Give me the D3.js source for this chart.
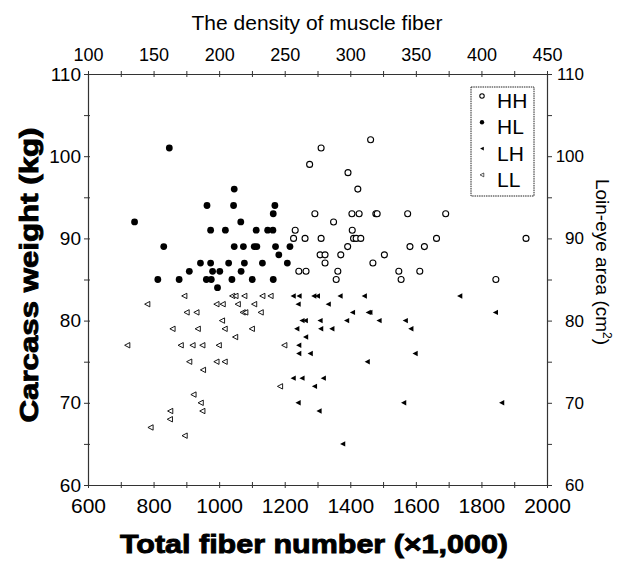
<!DOCTYPE html>
<html>
<head>
<meta charset="utf-8">
<script src="https://cdn.jsdelivr.net/npm/d3@7"></script>
<style>
  body { margin: 0; background: #fff; }
  svg { display: block; font-family: "Liberation Sans", Arial, sans-serif; }
  .tick text { fill: #000; }
</style>
</head>
<body>
<svg id="chart" width="625" height="562"></svg>
<script>
// values: [total fiber number (x1000), carcass weight (kg)]
const HH = [[1311,101],[1462,102],[1276,99],[1393,98],[1423,96],[1292,93],[1405,93],[1427,93],[1478,93],[1482,93],
  [1575,93],[1691,93],[1349,92],[1232,91],[1406,91],[1227,90],[1262,90],[1311,90],[1410,90],[1418,90],[1432,90],
  [1663,90],[1936,90],[1392,89],[1582,89],[1626,89],[1308,88],[1323,88],[1371,88],[1504,88],[1323,87],[1469,87],
  [1243,86],[1265,86],[1362,86],[1548,86],[1612,86],[1357,85],[1555,85],[1844,85]];
const HL = [[848,101],[1046,96],[963,94],[1044,94],[1170,94],[1165,93],[742,92],[1066,92],[974,91],[1019,91],
  [1113,91],[1148,91],[1164,91],[831,89],[1046,89],[1074,89],[1107,89],[1115,89],[1172,89],[1216,89],[1182,88],
  [943,87],[974,87],[1029,87],[1077,87],[1132,87],[1208,87],[909,86],[980,86],[1002,86],[1067,86],[813,85],
  [878,85],[961,85],[976,85],[1039,85],[1101,85],[1165,85],[995,84]];
const LH = [[1226,83],[1244,83],[1289,83],[1300,83],[1369,83],[1443,83],[1734,83],[1241,82],[1333,82],[1407,81],
  [1455,81],[1460,81],[1843,81],[1253,80],[1263,80],[1308,80],[1389,80],[1488,80],[1568,80],[1237,79],[1310,79],
  [1344,79],[1585,79],[1264,78],[1243,77],[1243,76],[1278,76],[1598,76],[1452,75],[1226,73],[1253,73],[1318,73],
  [1291,72],[1241,70],[1563,70],[1862,70],[1305,69],[1377,65]];
const LL = [[894,83],[1040,83],[1050,83],[1077,83],[1132,83],[1157,83],[781,82],[992,82],[1011,82],[1057,82],
  [1107,82],[901,81],[931,81],[1072,81],[1080,81],[1127,81],[1009,80],[858,79],[935,79],[1017,79],[1100,79],
  [1049,78],[720,77],[883,77],[919,77],[949,77],[999,77],[1199,77],[909,75],[992,75],[1017,75],[951,74],
  [1186,72],[922,71],[944,70],[851,69],[949,69],[850,68],[791,67],[895,66]];

const groups = ["HH", "HL", "LH", "LL"];
const xTicks = [600, 800, 1000, 1200, 1400, 1600, 1800, 2000];
const topTicks = [100, 150, 200, 250, 300, 350, 400, 450];
const yTicks = [60, 70, 80, 90, 100, 110];

const svg = d3.select("#chart");
const plotLeft = 88, plotRight = 547, plotTop = 74, plotBottom = 485;

const x = d3.scaleLinear().domain([600, 2000]).range([plotLeft, plotRight]);
const xTop = d3.scaleLinear().domain([100, 450]).range([plotLeft, plotRight]);
const y = d3.scaleLinear().domain([60, 110]).range([plotBottom, plotTop]);

const axisColor = "#333";

function styleAxis(g) {
  g.select(".domain").attr("stroke", axisColor).attr("stroke-width", 1.2);
  g.selectAll(".tick line").attr("stroke", axisColor);
}

// bottom axis
svg.append("g")
  .attr("transform", `translate(0,${plotBottom})`)
  .call(d3.axisBottom(x).tickValues(d3.range(600, 2001, 100))
    .tickSize(3).tickSizeOuter(0).tickPadding(12)
    .tickFormat(d => xTicks.includes(d) ? d : ""))
  .call(styleAxis)
  .call(g => g.selectAll(".tick line").attr("y1", -3))
  .call(g => g.selectAll(".tick text").attr("font-size", 21).attr("dy", "0.6em"));

// top axis
svg.append("g")
  .attr("transform", `translate(0,${plotTop})`)
  .call(d3.axisTop(xTop).tickValues(d3.range(100, 451, 25))
    .tickSize(3).tickSizeOuter(0).tickPadding(10)
    .tickFormat(d => topTicks.includes(d) ? d : ""))
  .call(styleAxis)
  .call(g => g.selectAll(".tick line").attr("y1", 3))
  .call(g => g.selectAll(".tick text").attr("font-size", 18));

// left axis
svg.append("g")
  .attr("transform", `translate(${plotLeft},0)`)
  .call(d3.axisLeft(y).tickValues(d3.range(60, 111, 5))
    .tickSize(4).tickSizeOuter(0).tickPadding(3)
    .tickFormat(d => yTicks.includes(d) ? d : ""))
  .call(styleAxis)
  .call(g => g.selectAll(".tick line").attr("x1", 2))
  .call(g => g.selectAll(".tick text").attr("font-size", 19));

// right axis (loin-eye area shares the same scale)
svg.append("g")
  .attr("transform", `translate(${plotRight},0)`)
  .call(d3.axisRight(y).tickValues(d3.range(60, 111, 5))
    .tickSize(5).tickSizeOuter(0).tickPadding(32)
    .tickFormat(d => yTicks.includes(d) ? d : ""))
  .call(styleAxis)
  .call(g => g.selectAll(".tick text").attr("font-size", 17).attr("text-anchor", "end"));

// axis titles
svg.append("text")
  .attr("x", 317).attr("y", 30)
  .attr("text-anchor", "middle")
  .attr("font-size", 21)
  .text("The density of muscle fiber");

svg.append("text")
  .attr("x", 314).attr("y", 553)
  .attr("text-anchor", "middle")
  .attr("font-size", 26).attr("font-weight", "bold")
  .attr("stroke", "#000").attr("stroke-width", 0.9)
  .attr("textLength", 388).attr("lengthAdjust", "spacingAndGlyphs")
  .text("Total fiber number (\u00d71,000)");

svg.append("text")
  .attr("transform", "translate(38,275) rotate(-90)")
  .attr("text-anchor", "middle")
  .attr("font-size", 26).attr("font-weight", "bold")
  .attr("stroke", "#000").attr("stroke-width", 0.9)
  .attr("textLength", 295).attr("lengthAdjust", "spacingAndGlyphs")
  .text("Carcass weight (kg)");

const rl = svg.append("text")
  .attr("transform", "translate(596,262) rotate(90)")
  .attr("text-anchor", "middle")
  .attr("font-size", 19);
rl.append("tspan").text("Loin-eye area (cm");
rl.append("tspan").attr("font-size", 12).attr("dy", -7).text("2");
rl.append("tspan").attr("dy", 7).text(")");

// markers
const tri = "M-2.7,0L2.5,-2.7L2.5,2.7Z";
const markers = {
  HH: (g, s) => g.append("circle").attr("r", s + 0.2).attr("fill", "#fff").attr("stroke", "#000").attr("stroke-width", 1.1),
  HL: (g, s) => g.append("circle").attr("r", s + 0.6).attr("fill", "#000"),
  LH: (g, s) => g.append("path").attr("d", tri).attr("fill", "#000").attr("transform", `scale(${s / 2.8})`),
  LL: (g, s) => g.append("path").attr("d", tri).attr("fill", "#fff").attr("stroke", "#000").attr("stroke-width", 0.9).attr("transform", `scale(${s / 2.8})`)
};
const seriesData = { HH, HL, LH, LL };

const plot = svg.append("g");
groups.forEach(key => {
  plot.selectAll(null)
    .data(seriesData[key])
    .join("g")
    .attr("transform", d => `translate(${x(d[0])},${y(d[1])})`)
    .each(function () { markers[key](d3.select(this), 2.8); });
});

// legend
const legend = svg.append("g").attr("transform", "translate(471,87)");
legend.append("rect")
  .attr("width", 63).attr("height", 109)
  .attr("fill", "#fff").attr("stroke", "#222").attr("stroke-width", 1)
  .attr("stroke-dasharray", "1.5,0.8");
groups.forEach((key, i) => {
  const row = legend.append("g").attr("transform", `translate(0,${21 + i * 26.3})`);
  const m = row.append("g").attr("transform", "translate(11,-12)");
  markers[key](m, key === "HL" ? 1.6 : 2);
  row.append("text").attr("x", 26).attr("y", 0).attr("font-size", 21).text(key);
});
</script>
</body>
</html>
